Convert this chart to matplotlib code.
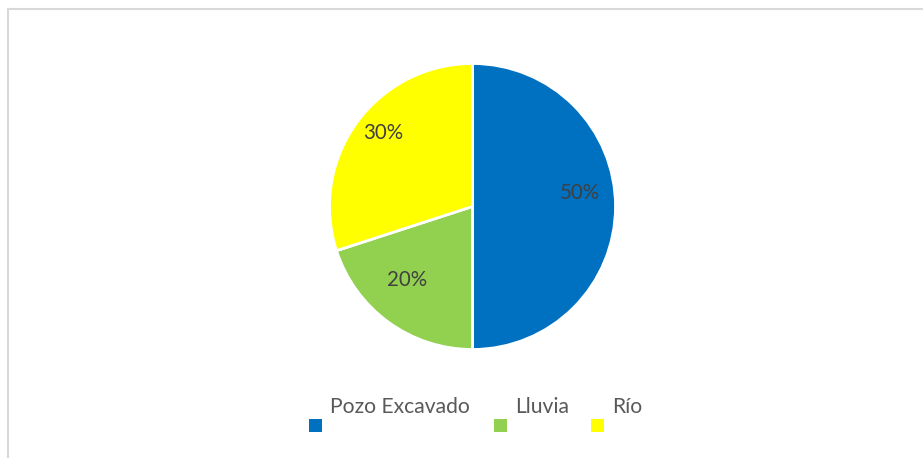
import matplotlib.pyplot as plt
from matplotlib.patches import Rectangle
from matplotlib.lines import Line2D

categories = ['Pozo Excavado', 'Lluvia', 'Río']
values = [50, 20, 30]
colors = ['#0070C0', '#92D050', '#FFFF00']

plt.rcParams['font.family'] = ['Lato', 'DejaVu Sans']

W, H = 923, 458
fig = plt.figure(figsize=(W / 100, H / 100), dpi=100)

# chart area border (only top and left visible)
fig.add_artist(Line2D([8 / W, 8 / W], [0, 1 - 9 / H], transform=fig.transFigure, color='#D9D9D9', lw=1.5))
fig.add_artist(Line2D([8 / W, 1], [1 - 9 / H, 1 - 9 / H], transform=fig.transFigure, color='#D9D9D9', lw=1.5))

cx, cy, r = 472.5, 206.5, 143
ax = fig.add_axes([(cx - r) / W, (H - cy - r) / H, 2 * r / W, 2 * r / H])

wedges, texts, autotexts = ax.pie(
    values, colors=colors, startangle=90, counterclock=False,
    autopct='%1.0f%%', pctdistance=0.75,
    wedgeprops=dict(edgecolor='white', linewidth=2),
    textprops=dict(color='#404040', fontsize=14.8))

# label positions as placed by the original chart
label_pos = [(0.75, 0.094), (-0.458, -0.514), (-0.626, 0.514)]
for t, p in zip(autotexts, label_pos):
    t.set_position(p)
ax.set_xlim(-1, 1)
ax.set_ylim(-1, 1)
ax.set_aspect('equal')

# legend: text on top, colour square below-left
text_x = [330, 515, 612]
for name, col, tx in zip(categories, colors, text_x):
    fig.text(tx / W, 1 - 413 / H, name, color='#595959', fontsize=15.2, va='baseline', ha='left')
    fig.add_artist(Rectangle(((tx - 21) / W, 1 - 432 / H), 13 / W, 13 / H,
                             transform=fig.transFigure, facecolor=col, edgecolor='none'))

fig.savefig('out.png', dpi=100)
